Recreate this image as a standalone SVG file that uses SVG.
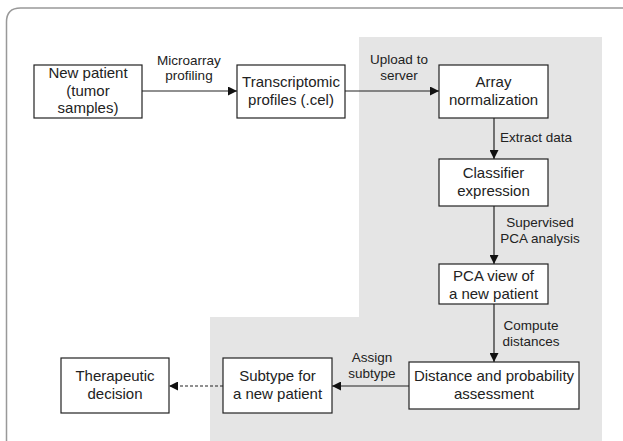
<svg xmlns="http://www.w3.org/2000/svg" width="623" height="441" viewBox="0 0 623 441">
<style>
.box{fill:#fff;stroke:#222;stroke-width:1.2}
.t{font-family:"Liberation Sans",Arial,sans-serif;font-size:15px;fill:#222;text-anchor:middle}
.l{font-family:"Liberation Sans",Arial,sans-serif;font-size:13.5px;fill:#222;text-anchor:middle}
.ls{text-anchor:start}
.c{stroke:#222;stroke-width:1.2;fill:none}
</style>
<defs>
<marker id="ah" viewBox="0 0 10 10" refX="10" refY="5" markerWidth="9" markerHeight="9" markerUnits="userSpaceOnUse" orient="auto">
<path d="M0,0 L10,5 L0,10 z" fill="#111"/>
</marker>
</defs>
<rect width="623" height="441" fill="#fff"/>
<path d="M6.5,441 V22 Q6.5,8 20.5,8 H623" fill="none" stroke="#999" stroke-width="1.5"/>
<path d="M359,37 H602 V441 H210 V317 H359 Z" fill="#e5e5e5"/>
<g id="connectors">
<line class="c" x1="142" y1="91" x2="237" y2="91" marker-end="url(#ah)"/>
<line class="c" x1="345" y1="91" x2="439" y2="91" marker-end="url(#ah)"/>
<line class="c" x1="494" y1="118" x2="494" y2="159" marker-end="url(#ah)"/>
<line class="c" x1="494" y1="206" x2="494" y2="264" marker-end="url(#ah)"/>
<line class="c" x1="494" y1="304" x2="494" y2="362" marker-end="url(#ah)"/>
<line class="c" x1="409" y1="386" x2="332" y2="386" marker-end="url(#ah)"/>
<line class="c" x1="223" y1="386" x2="169" y2="386" stroke-dasharray="3,2" marker-end="url(#ah)"/>
<text class="l" x="189" y="65">Microarray</text>
<text class="l" x="189" y="80">profiling</text>
<text class="l" x="399" y="64">Upload to</text>
<text class="l" x="399" y="80">server</text>
<text class="l ls" x="500" y="142">Extract data</text>
<text class="l" x="540" y="227">Supervised</text>
<text class="l" x="540" y="243">PCA analysis</text>
<text class="l" x="531" y="330">Compute</text>
<text class="l" x="531" y="346">distances</text>
<text class="l" x="372" y="362">Assign</text>
<text class="l" x="372" y="378">subtype</text>
</g>
<g id="new-patient">
<rect class="box" x="34" y="65" width="108" height="53"/>
<text class="t" x="88" y="78">New patient</text>
<text class="t" x="88" y="96">(tumor</text>
<text class="t" x="88" y="113">samples)</text>
</g>
<g id="transcriptomic">
<rect class="box" x="237" y="65" width="108" height="53"/>
<text class="t" x="291" y="87">Transcriptomic</text>
<text class="t" x="291" y="105">profiles (.cel)</text>
</g>
<g id="array-normalization">
<rect class="box" x="439" y="65" width="109" height="53"/>
<text class="t" x="493.5" y="87">Array</text>
<text class="t" x="493.5" y="105">normalization</text>
</g>
<g id="classifier">
<rect class="box" x="439" y="159" width="109" height="47"/>
<text class="t" x="493.5" y="178">Classifier</text>
<text class="t" x="493.5" y="196">expression</text>
</g>
<g id="pca-view">
<rect class="box" x="439" y="264" width="109" height="40"/>
<text class="t" x="493.5" y="281">PCA view of</text>
<text class="t" x="493.5" y="299">a new patient</text>
</g>
<g id="distance">
<rect class="box" x="409" y="362" width="170" height="47"/>
<text class="t" x="494" y="381">Distance and probability</text>
<text class="t" x="494" y="399">assessment</text>
</g>
<g id="subtype">
<rect class="box" x="223" y="358" width="109" height="55"/>
<text class="t" x="277.5" y="381">Subtype for</text>
<text class="t" x="277.5" y="399">a new patient</text>
</g>
<g id="therapeutic">
<rect class="box" x="61" y="358" width="108" height="55"/>
<text class="t" x="115" y="381">Therapeutic</text>
<text class="t" x="115" y="399">decision</text>
</g>
</svg>
